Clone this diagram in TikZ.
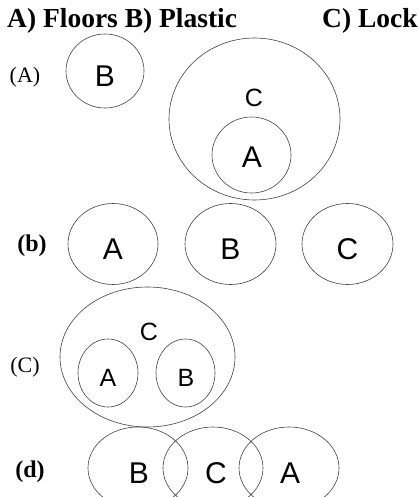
\documentclass[tikz,border=0pt]{standalone}
\usepackage{fontspec}
\setmainfont{Liberation Serif}
\newfontfamily\lsans{Liberation Sans}
\usetikzlibrary{shapes.geometric}
\begin{document}
\begin{tikzpicture}[x=1pt,y=-1pt,
  ring/.style={draw=black!75,line width=0.6pt,ellipse,inner sep=0pt},
  bigl/.style={font=\lsans\fontsize{30}{30}\selectfont,inner sep=0pt},
  midl/.style={font=\lsans\fontsize{25}{25}\selectfont,inner sep=0pt},
  rowl/.style={font=\fontsize{22}{22}\selectfont,inner sep=0pt},
  rowb/.style={font=\bfseries\fontsize{24}{24}\selectfont,inner sep=0pt},
  titl/.style={font=\bfseries\fontsize{27.5}{27.5}\selectfont,inner sep=0pt,anchor=base west}]
\useasboundingbox (0,0) rectangle (418,497);
\clip (0,0) rectangle (418,497);
% title
\node[titl] (t1) at (7,28) {A) Floors B) Plastic};
\node[titl] (t2) at (322,28) {C) Lock};
% row A
\node[rowl] (la) at (25,77) {(A)};
\node[ring,minimum width=78pt,minimum height=74pt] (aB) at (105,71) {};
\node[bigl] (aBl) at (105,76) {B};
\node[ring,minimum width=171pt,minimum height=162pt] (aC) at (254.5,119) {};
\node[midl] (aCl) at (254,98) {C};
\node[ring,minimum width=79pt,minimum height=76pt] (aA) at (251.5,155) {};
\node[bigl] (aAl) at (252,157) {A};
% row b
\node[rowb] (lb) at (32,246) {(b)};
\node[ring,minimum width=90pt,minimum height=81pt] (bA) at (113,244) {};
\node[bigl] (bAl) at (113,249) {A};
\node[ring,minimum width=91pt,minimum height=81pt] (bB) at (230.5,244) {};
\node[bigl] (bBl) at (230.5,249) {B};
\node[ring,minimum width=91pt,minimum height=81pt] (bC) at (347.5,244) {};
\node[bigl] (bCl) at (347.5,249) {C};
% row C
\node[rowl] (lc) at (25,367) {(C)};
\node[ring,minimum width=175pt,minimum height=140pt] (cC) at (147.5,357) {};
\node[midl] (cCl) at (149,332) {C};
\node[ring,minimum width=60pt,minimum height=68pt] (cA) at (108,373) {};
\node[midl] (cAl) at (108,378) {A};
\node[ring,minimum width=59pt,minimum height=68pt] (cB) at (185.5,373) {};
\node[midl] (cBl) at (186,378) {B};
% row d
\node[rowb] (ld) at (30,472) {(d)};
\node[ring,minimum width=100pt,minimum height=82pt] (dB) at (138,468) {};
\node[ring,minimum width=100pt,minimum height=82pt] (dC) at (213,468) {};
\node[ring,minimum width=100pt,minimum height=82pt] (dA) at (289,468) {};
\node[bigl] (dBl) at (139,473) {B};
\node[bigl] (dCl) at (216,473) {C};
\node[bigl] (dAl) at (290,473) {A};
\end{tikzpicture}
\end{document}
